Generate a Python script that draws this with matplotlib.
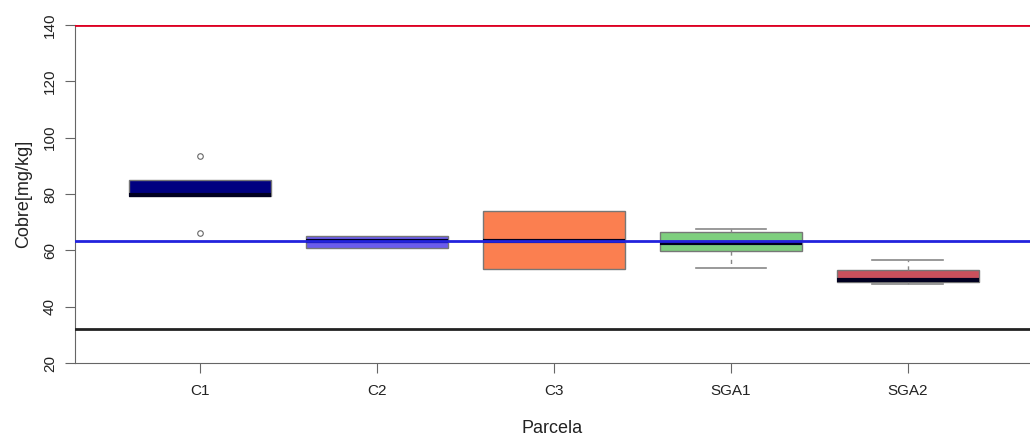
import matplotlib.pyplot as plt

plt.rcParams['font.family'] = ['Liberation Sans', 'DejaVu Sans']

parcelas = ["C1", "C2", "C3", "SGA1", "SGA2"]
# box statistics: whislo, q1, med, q3, whishi
whislo = [79.4, 60.7, 53.3, 53.8, 48.2]
q1 = [79.4, 60.7, 53.3, 59.9, 48.9]
med = [79.7, 63.3, 63.4, 62.5, 49.4]
q3 = [85.0, 65.0, 74.0, 66.5, 53.0]
whishi = [85.0, 65.0, 74.0, 67.6, 56.6]
outliers = [[93.5, 66.1], [], [], [], []]
cores = ["#000080", "#6b5cee", "#fb7f50", "#7ecf7e", "#c9505c"]

limite_max = 140
media = 63.3
limite_min = 32

stats = []
for i, nome in enumerate(parcelas):
    stats.append(dict(label=nome, whislo=whislo[i], q1=q1[i], med=med[i],
                      q3=q3[i], whishi=whishi[i], fliers=outliers[i]))

fig = plt.figure(figsize=(10.3, 4.4), dpi=100)
ax = fig.add_axes([75 / 1030, 1 - 363 / 440, 1 - 75 / 1030, (363 - 25) / 440])

bp = ax.bxp(stats, positions=range(1, 6), widths=0.8, patch_artist=True,
            boxprops=dict(edgecolor="#777777", linewidth=1),
            medianprops=dict(color="#000020", linewidth=3),
            whiskerprops=dict(color="#888888", linestyle=(0, (3, 3)), linewidth=1),
            capprops=dict(color="#888888", linewidth=1.2),
            flierprops=dict(marker="o", markersize=4, markerfacecolor="white",
                            markeredgecolor="#666666", markeredgewidth=0.8),
            capwidths=0.4)
for caixa, cor in zip(bp["boxes"], cores):
    caixa.set_facecolor(cor)

# whiskers that end on the box edge are not drawn
for i in range(len(parcelas)):
    if whislo[i] == q1[i]:
        bp["caps"][2 * i].set_visible(False)
    if whishi[i] == q3[i]:
        bp["caps"][2 * i + 1].set_visible(False)

ax.axhline(limite_max, color="#dd0022", linewidth=2, zorder=5)
ax.axhline(media, color="#2222dd", linewidth=2, zorder=5)
ax.axhline(limite_min, color="#222222", linewidth=2, zorder=5)

ax.set_ylim(20, 140)
ax.set_xlim(0.294, 5.69)
ax.set_yticks([20, 40, 60, 80, 100, 120, 140])
ax.set_xticks(range(1, 6))
ax.set_xticklabels(parcelas)
for lbl in ax.get_yticklabels():
    lbl.set_rotation(90)
    lbl.set_va("center")

ax.spines["top"].set_visible(False)
ax.spines["right"].set_visible(False)
ax.spines["left"].set_color("#666666")
ax.spines["bottom"].set_color("#666666")
ax.tick_params(axis="both", direction="out", length=7, color="#666666",
               labelsize=11, labelcolor="#222222")
ax.tick_params(axis="y", pad=6)
ax.tick_params(axis="x", pad=8)

ax.set_ylabel("Cobre[mg/kg]", fontsize=13, color="#222222", labelpad=8)
ax.set_xlabel("Parcela", fontsize=13, color="#222222", labelpad=16)

fig.savefig("out.png", dpi=100)
